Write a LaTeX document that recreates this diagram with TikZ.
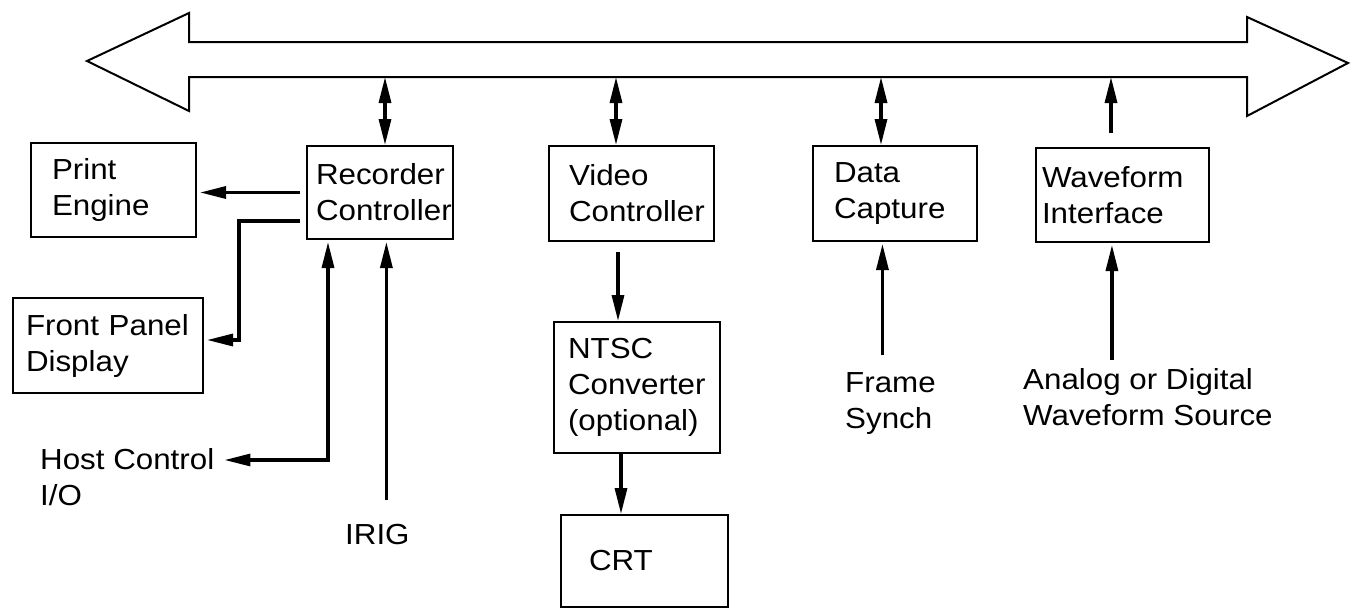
\documentclass[tikz,border=0pt]{standalone}
\usepackage{fontspec}
\setmainfont{Liberation Sans}[FakeStretch=1.08]
\usetikzlibrary{arrows.meta,calc}
\hyphenpenalty=10000
\exhyphenpenalty=10000

\begin{document}
\begin{tikzpicture}[x=1pt,y=-1pt,
  txt/.style={font=\fontsize{29}{36}\selectfont, align=left, inner sep=0pt},
  blk/.style={txt, draw, line width=2pt, rectangle, anchor=north west, inner ysep=0pt},
  lbl/.style={txt, anchor=north west},
  tip/.tip={Triangle[length=26pt,width=12pt]},
  link/.style={line width=3.2pt, -tip},
  both/.style={line width=3.2pt, tip-tip},
  bus/.style={line width=2pt, line join=miter},
]
% canvas
\fill[white] (0,0) rectangle (1356,608);
\useasboundingbox (0,0) rectangle (1356,608);

% system bus: double-headed block arrow
\draw[bus] (87,61) -- (189,13) -- (189,42) -- (1247,42) -- (1247,17) -- (1348,63)
  -- (1247,116) -- (1247,77) -- (189,77) -- (189,111) -- cycle;
\coordinate (busbot) at (0,77);

% functional blocks
\node[blk, minimum height=94pt, inner xsep=21pt, text width=123pt] (pe) at (30,142) {Print\\Engine};
\node[blk, minimum height=93pt, inner xsep=9pt,  text width=128pt] (rec) at (306,145) {Recorder\\Controller};
\node[blk, minimum height=95pt, inner xsep=13pt, text width=164pt] (fpd) at (12,297) {Front Panel\\Display};
\node[blk, minimum height=95pt, inner xsep=20pt, text width=125pt] (vc) at (548,145) {Video\\Controller};
\node[blk, minimum height=131pt, inner xsep=14pt, text width=138pt] (ntsc) at (553,321) {NTSC\\Converter\\(optional)};
\node[blk, minimum height=92pt, inner xsep=28pt, text width=111pt] (crt) at (560,514) {CRT};
\node[blk, minimum height=95pt, inner xsep=21pt, text width=122pt] (dc) at (812,145) {Data\\Capture};
\node[blk, minimum height=94pt, inner xsep=6pt,  text width=161pt] (wi) at (1035,147) {Waveform\\Interface};

% external signals
\node[lbl] (hc) at (40,448) {Host Control\\I/O};
\node[lbl] (irig) at (345,524) {IRIG};
\node[lbl] (fs) at (845,372) {Frame\\Synch};
\node[lbl] (src) at (1023,368) {Analog or Digital\\Waveform Source};

% bus connections
\draw[both] ([xshift=5pt]rec.north) coordinate (b1) -- (b1 |- busbot);
\draw[both] ([xshift=-15.5pt]vc.north) coordinate (b2) -- (b2 |- busbot);
\draw[both] ([xshift=-14pt]dc.north) coordinate (b3) -- (b3 |- busbot);
\draw[link] ([xshift=-11.5pt,yshift=14pt]wi.north) coordinate (b4) -- (b4 |- busbot);

% recorder controller outputs and inputs
\draw[link] ([xshift=-6pt]rec.west) coordinate (r1) -- ($(r1 -| pe.east)+(3,0)$);
\draw[link] ([xshift=-6pt,yshift=-28.5pt]rec.west) coordinate (r2)
  -| ($(fpd.east)+(35,-5.5)$) -- ($(fpd.east)+(3,-5.5)$);
\draw[both] ([xshift=-52pt,yshift=-2pt]rec.south) |- ($(hc.north east)+(10,12)$);
\draw[link] ([xshift=9pt,yshift=24pt]irig.north) coordinate (i1) -- ($(i1 |- rec.south)+(0,2)$);

% video chain
\draw[link] ([xshift=-13.5pt,yshift=-10pt]vc.south) coordinate (v1) -- (v1 |- ntsc.north);
\draw[link] ([xshift=-16pt]ntsc.south) coordinate (v2) -- (v2 |- crt.north);

% capture and waveform inputs
\draw[link] ([xshift=-8pt,yshift=17pt]fs.north) coordinate (f1) -- ($(f1 |- dc.south)+(0,2)$);
\draw[link] ([xshift=-36pt,yshift=8pt]src.north) coordinate (s1) -- ($(s1 |- wi.south)+(0,2)$);
\end{tikzpicture}
\end{document}
